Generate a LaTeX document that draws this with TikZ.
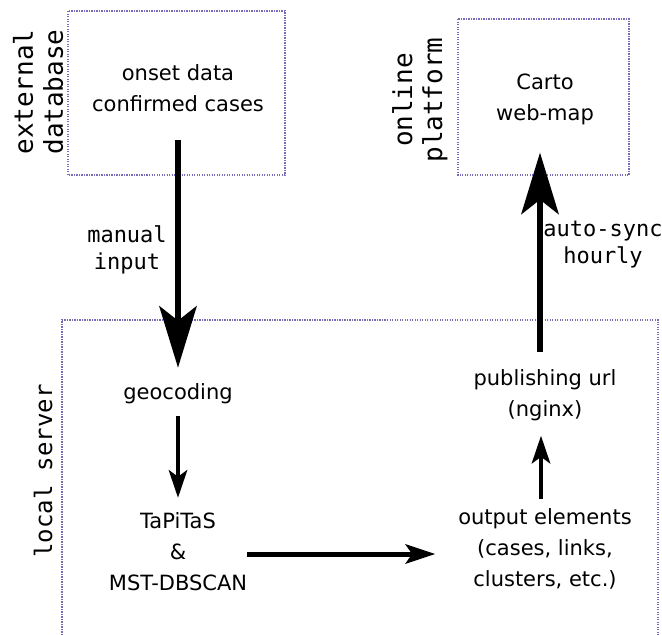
\documentclass[tikz,border=0pt]{standalone}
\usepackage{fontspec}
\setmainfont{DejaVu Sans}
\newfontfamily\labfont{DejaVu Sans Mono}
\usetikzlibrary{arrows.meta}
\definecolor{zonecol}{RGB}{118,108,188}
\tikzset{
  zone/.style={draw=zonecol, line width=1.5pt, dash pattern=on 1.2pt off 1.3pt},
  txt/.style={align=center, inner sep=0pt, font=\fontsize{21}{31}\selectfont},
  lab/.style={align=center, inner sep=0pt, font=\labfont\fontsize{22}{27}\selectfont},
  sidelab/.style={align=center, inner sep=0pt, rotate=90, font=\labfont\fontsize{26}{30}\selectfont},
  bigarrow/.style={line width=6.5pt, -{Stealth[length=62pt,width=38pt,inset=15pt,line width=0pt]}},
  horizarrow/.style={line width=5pt, -{Stealth[length=30pt,width=20pt,inset=7pt,line width=0pt]}},
  smallarrow/.style={line width=4.5pt, -{Stealth[length=28pt,width=19pt,inset=7pt,line width=0pt]}},
}
\begin{document}
\begin{tikzpicture}[x=1pt,y=-1pt]
  \useasboundingbox (0,0) rectangle (662,635);
  % zones
  \draw[zone] (68,11) rectangle (285,175);
  \draw[zone] (458,19) rectangle (629,175);
  \draw[zone] (62,635) -- (62,320) -- (658,320) -- (658,635);
  % zone labels
  \node[sidelab] (extlab) at (38,92) {external\\database};
  \node[sidelab] (onlab) at (420,100) {online\\platform};
  \node[sidelab, font=\labfont\fontsize{24}{28}\selectfont] (loclab) at (43,471) {local server};
  % nodes
  \node[txt] (ext) at (178,88) {onset data\\confirmed cases};
  \node[txt] (carto) at (545,99) {Carto\\web-map};
  \node[txt] (geo) at (178,394) {geocoding};
  \node[txt] (tap) at (178,552) {TaPiTaS\\\&\\MST-DBSCAN};
  \node[txt] (pub) at (545,395) {publishing url\\(nginx)};
  \node[txt] (out) at (545,549) {output elements\\(cases, links,\\clusters, etc.)};
  % edge labels
  \node[lab] (manlab) at (127,250) {manual\\input};
  \node[lab] (autolab) at (603,245) {auto-sync\\hourly};
  % connectors
  \draw[bigarrow, shorten <=28pt, shorten >=16pt] (ext) -- (geo);
  \draw[smallarrow, shorten <=12pt, shorten >=15pt] (geo) -- (tap);
  \draw[horizarrow, shorten >=23pt] ([yshift=-2pt]tap.east) -- ([yshift=-2pt]tap.east -| out.west);
  \draw[smallarrow, shorten <=9pt, shorten >=15pt] ([xshift=-4pt]out.north) -- ([xshift=-4pt]pub.south);
  \draw[bigarrow, shorten <=17pt, shorten >=28pt] ([xshift=-5pt]pub.north) -- ([xshift=-5pt]carto.south);
\end{tikzpicture}
\end{document}
